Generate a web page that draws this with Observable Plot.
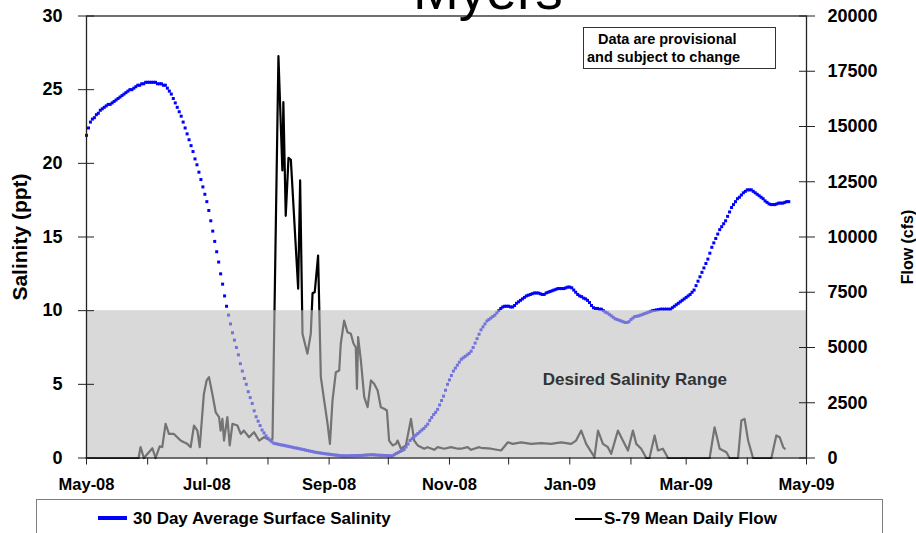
<!DOCTYPE html>
<html><head><meta charset="utf-8">
<script src="https://cdn.jsdelivr.net/npm/d3@7"></script>
<script src="https://cdn.jsdelivr.net/npm/@observablehq/plot@0.6"></script>
<style>
body{margin:0;background:#fff;font-family:"Liberation Sans",Arial,sans-serif;}
#wrap{position:relative;width:916px;height:533px;overflow:hidden;background:#fff;}
#chart{position:absolute;left:0;top:0;}
.abs{position:absolute;white-space:nowrap;color:#000;}
.b{font-weight:bold;}
.rot{transform:translate(-50%,-50%) rotate(-90deg);}
</style></head><body>
<div id="wrap">
<div id="chart"></div>
<div class="abs" style="left:413px;top:-37px;font-size:55px;line-height:55px;">Myers</div>
<div class="abs" style="left:583px;top:27px;width:191px;height:40px;border:1px solid #333;"></div>
<div class="abs b" style="left:598px;top:32px;font-size:14.5px;line-height:14.5px;">Data are provisional</div>
<div class="abs b" style="left:587px;top:50px;font-size:14.5px;line-height:14.5px;">and subject to change</div>
<div class="abs b rot" style="left:19px;top:237px;font-size:21px;line-height:21px;">Salinity (ppt)</div>
<div class="abs b rot" style="left:908px;top:247px;font-size:16px;line-height:16px;">Flow (cfs)</div>
<div class="abs" style="left:36px;top:499px;width:845px;height:60px;border:1px solid #808080;"></div>
<div class="abs" style="left:98px;top:516px;width:29px;height:4px;background:#0000ff;"></div>
<div class="abs b" id="leg1" style="left:133px;top:510px;font-size:17px;line-height:17px;"></div>
<div class="abs" style="left:575px;top:518px;width:27px;height:2px;background:#000;"></div>
<div class="abs b" id="leg2" style="left:604px;top:510px;font-size:17px;line-height:17px;"></div>
</div>
<script>
// ---- data ----
const seriesNames = ["30 Day Average Surface Salinity", "S-79 Mean Daily Flow"];
const salinityStart = "2008-05-01";
// daily 30-day average surface salinity (ppt), from 2008-05-01
const salinity = [
21.9,22.4,22.8,23.0,23.1,23.3,23.4,23.6,23.7,23.8,23.9,24.0,24.0,24.1,24.2,24.3,24.4,24.5,24.6,24.7,24.8,24.9,25.0,25.0,25.1,25.2,25.3,25.3,25.4,25.4,25.5,25.5,25.5,
25.5,25.5,25.5,25.4,25.4,25.4,25.3,25.3,
25.1,24.9,24.7,24.4,24.1,23.8,23.5,23.2,22.8,22.4,22.0,21.6,21.2,20.8,20.3,19.9,19.4,18.9,18.4,17.9,17.4,16.8,16.1,15.4,14.7,14.0,13.3,12.5,11.8,11.0,10.3,9.7,9.1,8.5,8.0,7.5,7.0,6.4,5.9,5.4,5.0,4.5,4.1,3.7,3.2,2.8,2.5,2.2,1.9,1.7,1.5,1.34,1.22,1.1,1.0,
0.97,0.94,0.91,0.88,0.86,0.83,0.80,0.77,0.74,0.71,0.68,0.66,0.63,0.60,0.57,0.54,0.51,0.48,0.45,0.42,0.39,0.37,0.35,0.33,0.31,0.29,0.27,0.26,0.24,0.22,0.20,0.19,0.17,0.16,
0.15,0.15,0.15,0.15,0.16,0.16,0.16,0.17,0.17,0.17,0.18,0.19,0.20,0.21,0.22,0.22,0.21,0.20,0.19,0.18,0.18,0.17,0.17,0.16,0.15,0.15,
0.22,0.30,0.37,0.44,0.51,0.58,0.75,0.95,1.19,1.31,1.43,1.55,1.66,1.78,1.9,2.0,2.15,2.3,
2.55,2.75,2.95,3.1,3.3,3.6,3.9,4.2,4.6,5.0,5.3,5.6,5.9,6.1,6.3,6.5,6.7,6.8,6.9,7.0,7.1,7.25,7.5,7.8,8.1,8.4,8.7,8.9,9.1,9.3,9.4,9.5,9.6,9.7,9.85,10.0,10.15,10.25,10.3,10.3,
10.3,10.25,10.25,10.35,10.5,10.6,10.7,10.8,10.9,11.0,11.05,11.1,11.15,11.2,11.2,11.2,11.15,11.1,11.1,11.2,11.25,11.3,11.35,11.4,11.45,11.5,11.5,11.5,11.5,11.55,11.6,11.6,11.55,11.4,11.25,11.1,11.0,10.95,10.85,10.8,10.7,10.55,10.35,10.2,10.15,10.15,10.1,10.1,10.0,9.9,9.85,9.75,9.65,9.55,9.45,9.4,9.35,9.3,9.25,9.2,9.2,9.25,9.4,9.5,9.6,9.62,9.65,9.7,9.75,9.8,9.85,9.9,9.95,10.0,10.02,10.05,10.07,10.1,10.1,
10.1,10.1,10.1,10.1,10.2,10.3,10.4,10.5,10.6,10.7,10.8,10.9,11.0,11.1,11.25,11.4,11.7,12.0,12.3,12.6,12.9,13.2,13.5,13.9,14.3,14.6,14.9,15.2,15.5,15.7,15.9,16.1,16.4,16.7,17.0,17.2,17.4,17.6,17.7,17.85,18.0,18.1,18.2,18.2,18.2,18.1,18.0,17.9,17.8,17.7,17.6,17.45,17.35,17.25,17.2,17.2,17.2,17.25,17.3,17.3,17.3,17.35,17.4,17.4
];
// S-79 mean daily flow: day offset from 2008-05-01 and cfs
const flowDay = [0,26.4,27.4,29.1,33.4,35,37.1,38.4,40.1,41.8,44.3,46,47.7,49.4,51.1,52.8,54.5,56.2,57.4,59.5,60.9,62.1,63.8,65.5,67.2,68,68.9,69.7,71.4,72.6,74,76.5,78.2,79.8,82.4,84.9,87.5,90,93.4,94.3,97.3,99.3,99.8,101,102.4,103.6,107.3,108.3,109.5,112,113.7,114.6,115.7,117.4,118.8,120.5,122.2,123.4,124.7,126.4,128.1,128.9,130.6,132.3,134,135.4,136.5,137.1,137.7,139.1,140.8,142.5,144.2,145.8,147.6,149.2,150.9,152.3,153.4,155.2,156.9,157.7,159.4,161.9,164.5,166.1,167.9,171.2,172.9,176.3,178,181.4,184.8,188.2,189.8,193.2,194.9,199.1,200,205.1,210.2,213.6,216.1,220.3,225.4,230.5,235.5,240.6,245.7,248.2,250.8,253.3,257.5,259.3,261.8,264.3,266,269.4,271.9,274.5,277,278.7,281.2,283.8,285.4,288,289.7,292.2,294.8,315.9,318.4,321,324.4,326,330.3,332,333.6,335.4,337.9,347.2,349.7,351.4,353.2,354];
const flowCfs = [0,0,490,0,440,0,530,490,1550,1090,1090,940,790,710,640,490,1470,1240,490,2900,3510,3660,2900,2070,1850,1240,1770,790,1850,570,1550,1470,1090,1240,940,1170,790,940,790,870,18180,13010,16100,10960,13580,13490,7660,12560,5620,4720,5620,7460,7500,9160,3660,2600,1550,640,2600,3880,3960,5170,6220,5690,5620,5170,5010,3130,5470,4410,2750,2300,3510,3360,3050,2300,2230,2150,790,570,640,790,420,570,1770,790,570,420,490,370,490,420,490,420,420,490,370,490,460,420,340,710,640,710,640,670,640,710,640,790,1240,640,40,1240,640,490,190,1240,790,340,1240,640,420,0,0,1020,340,420,0,0,1390,420,260,0,0,1700,1770,790,0,0,1020,940,490,420];
const xDomain = ["2008-05-01", "2009-05-01"];
const monthTicks = ["2008-05-01","2008-06-01","2008-07-01","2008-08-01","2008-09-01","2008-10-01","2008-11-01","2008-12-01","2009-01-01","2009-02-01","2009-03-01","2009-04-01","2009-05-01"];
const xLabelDates = ["2008-05-01","2008-07-01","2008-09-01","2008-11-01","2009-01-01","2009-03-01","2009-05-01"];
const xLabels = ["May-08","Jul-08","Sep-08","Nov-08","Jan-09","Mar-09","May-09"];
const salTicks = [0,5,10,15,20,25,30];
const flowTicks = [0,2500,5000,7500,10000,12500,15000,17500,20000];
const salMax = 30, flowMax = 20000;
const desiredRange = [0, 10];
const annotation = [{date: "2009-02-03", sal: 5.3, text: "Desired Salinity Range"}];

// ---- build ----
const day = 864e5;
const t0 = new Date(salinityStart + "T00:00:00Z").getTime();
const k = salMax / flowMax;
const salData = salinity.map((v, i) => ({date: new Date(t0 + i * day), sal: v}));
const flowData = flowDay.map((d, i) => ({date: new Date(t0 + d * day), y: flowCfs[i] * k}));
const dom = xDomain.map(s => new Date(s + "T00:00:00Z"));
const mt = monthTicks.map(s => new Date(s + "T00:00:00Z"));
const lt = xLabelDates.map(s => new Date(s + "T00:00:00Z"));
const labelMap = new Map(lt.map((d, i) => [+d, xLabels[i]]));
const rangeData = [{x1: dom[0], x2: dom[1], y1: desiredRange[0], y2: desiredRange[1]}];
const annData = annotation.map(a => ({...a, date: new Date(a.date + "T00:00:00Z")}));
const font = '"Liberation Sans", Arial, sans-serif';

document.getElementById("leg1").textContent = seriesNames[0];
document.getElementById("leg2").textContent = seriesNames[1];

const chart = Plot.plot({
  width: 916, height: 500,
  marginLeft: 86, marginRight: 110, marginTop: 15.5, marginBottom: 42.5,
  style: {fontFamily: font, fontWeight: "bold", color: "#000", background: "transparent", overflow: "visible"},
  x: {type: "utc", domain: dom, axis: null},
  y: {domain: [0, salMax], axis: null},
  marks: [
    Plot.line(flowData, {x: "date", y: "y", stroke: "#000", strokeWidth: 2.2}),
    Plot.dot(salData, {x: "date", y: "sal", symbol: "square", r: 1.7, fill: "#0000ff", stroke: null}),
    Plot.rect(rangeData, {x1: "x1", x2: "x2", y1: "y1", y2: "y2", fill: "#bfbfbf", fillOpacity: 0.6}),
    Plot.text(annData, {x: "date", y: "sal", text: "text", fontSize: 17, fontWeight: "bold", fill: "#333"}),
    Plot.frame({stroke: "#222", strokeWidth: 1.3}),
    Plot.axisY({anchor: "left", ticks: salTicks, tickSize: 16, dx: 8, tickFormat: () => "", stroke: "#222", label: null}),
    Plot.axisY({anchor: "left", ticks: salTicks, tickSize: 0, tickPadding: 24, fontSize: 18, fontWeight: "bold", label: null}),
    Plot.axisY({anchor: "right", ticks: flowTicks.map(v => v * k), tickSize: 16, dx: -8, tickFormat: () => "", stroke: "#222", label: null}),
    Plot.axisY({anchor: "right", ticks: flowTicks.map(v => v * k), tickSize: 0, tickPadding: 21, tickFormat: v => String(Math.round(v / k)), fontSize: 18, fontWeight: "bold", label: null}),
    Plot.axisX({ticks: mt, tickSize: 7, tickFormat: () => "", stroke: "#222", label: null}),
    Plot.axisX({ticks: lt, tickSize: 0, tickPadding: 20, tickFormat: d => labelMap.get(+d), fontSize: 16.5, fontWeight: "bold", label: null})
  ]
});
document.getElementById("chart").appendChild(chart);
</script>
</body></html>
